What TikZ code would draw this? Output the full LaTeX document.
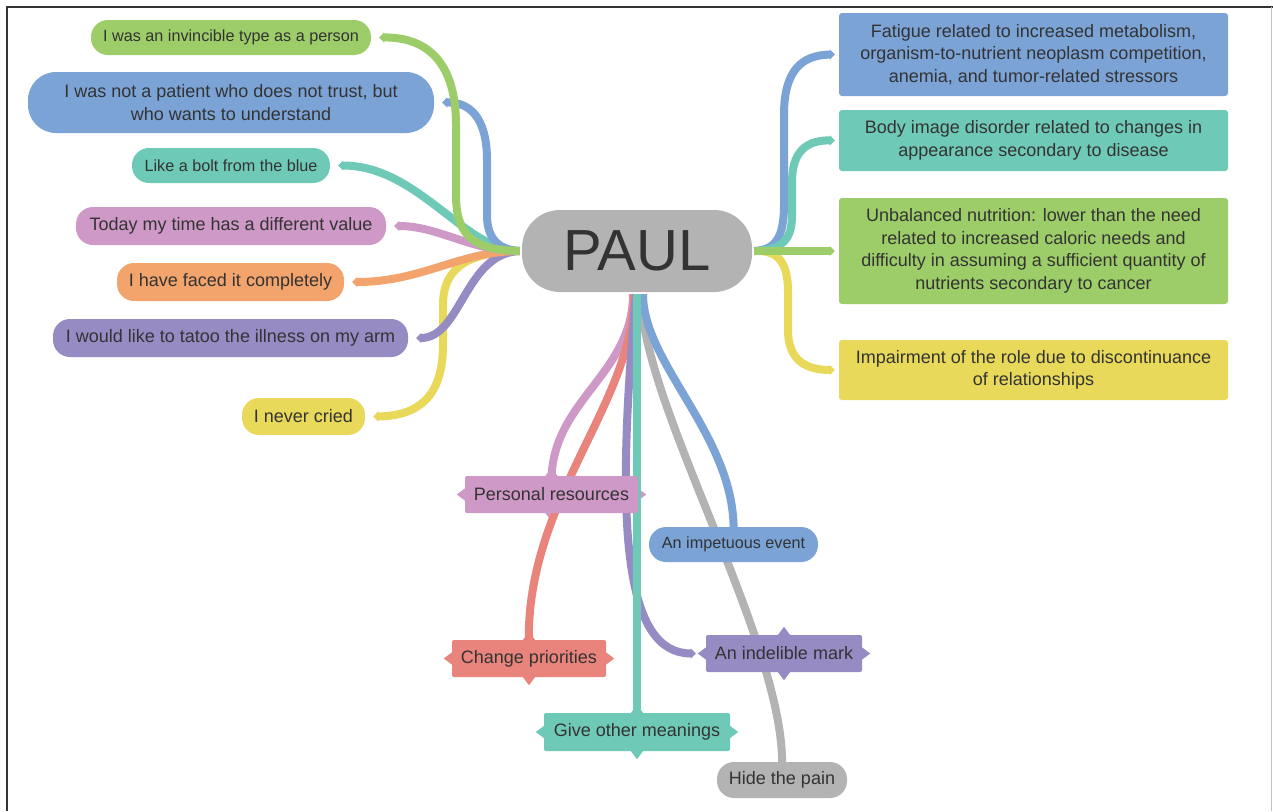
\documentclass[tikz,border=0pt]{standalone}
\usepackage{fontspec}
\setmainfont{Liberation Sans}
\usetikzlibrary{arrows.meta}
\definecolor{cgreen}{HTML}{9DCD68}
\definecolor{cblue}{HTML}{7BA3D6}
\definecolor{cteal}{HTML}{6FC9B7}
\definecolor{cpink}{HTML}{CE98C7}
\definecolor{corange}{HTML}{F3A46C}
\definecolor{cpurple}{HTML}{978BC4}
\definecolor{cyellow}{HTML}{E8D95B}
\definecolor{cred}{HTML}{E9847C}
\definecolor{cgray}{HTML}{B3B3B3}
\definecolor{ctext}{HTML}{333333}
\pgfdeclarelayer{bg}
\pgfsetlayers{bg,main}
\newcommand\notchfour[2]{%
  \fill[#2] (#1.north) ++(-6,0) -- ++(6,-8) -- ++(6,8) -- cycle;
  \fill[#2] (#1.south) ++(-6,0) -- ++(6,8) -- ++(6,-8) -- cycle;
  \fill[#2] (#1.east) ++(0,-6) -- ++(8,6) -- ++(-8,6) -- cycle;
  \fill[#2] (#1.west) ++(0,-6) -- ++(-8,6) -- ++(8,6) -- cycle;}
\tikzset{
  base/.style={inner sep=0pt, text=ctext, align=center, font=\fontsize{18}{22.5}\selectfont},
  small/.style={font=\fontsize{16.2}{20}\selectfont},
  pill/.style={base, fill=#1, rounded corners=17pt},
  rbox/.style={base, fill=#1, rounded corners=3pt},
  conn/.style={draw=#1, line width=8pt, -{Triangle[length=5pt,width=10pt]}},
}
\begin{document}
\begin{tikzpicture}[x=1pt,y=-1pt]
\useasboundingbox (0,0) rectangle (1273,811);
\begin{pgfonlayer}{bg}
\fill[white] (0,0) rectangle (1273,811);
\end{pgfonlayer}
\draw[line width=1.5pt, draw=black!80] (7,811) -- (7,7) -- (1273,7);
\draw[line width=1pt, draw=black!25] (1271.5,7) -- (1271.5,811);
% center
\node[pill=cgray, rounded corners=38pt, minimum width=230pt, minimum height=82pt, font=\fontsize{58}{58}\selectfont] (paul) at (637,251) {PAUL};
% left
\node[pill=cgreen, small, minimum width=280pt, minimum height=35pt] (l1) at (231,37.5) {I was an invincible type as a person};
\node[pill=cblue, rounded corners=28pt, minimum width=406pt, minimum height=61pt] (l2) at (231,102.5) {I was not a patient who does not trust, but\\who wants to understand};
\node[pill=cteal, small, minimum width=198pt, minimum height=35pt] (l3) at (231,165.5) {Like a bolt from the blue};
\node[pill=cpink, minimum width=310pt, minimum height=38pt] (l4) at (231,226) {Today my time has a different value};
\node[pill=corange, minimum width=227pt, minimum height=38pt] (l5) at (230.5,282) {I have faced it completely};
\node[pill=cpurple, minimum width=355pt, minimum height=38pt] (l6) at (230.5,338) {I would like to tatoo the illness on my arm};
\node[pill=cyellow, minimum width=123pt, minimum height=37pt] (l7) at (303.5,416.5) {I never cried};
% right
\node[rbox=cblue, minimum width=389pt, minimum height=83pt] (r1) at (1033.5,54.5) {Fatigue related to increased metabolism,\\organism-to-nutrient neoplasm competition,\\anemia, and tumor-related stressors};
\node[rbox=cteal, minimum width=389pt, minimum height=61pt] (r2) at (1033.5,140.5) {Body image disorder related to changes in\\appearance secondary to disease};
\node[rbox=cgreen, minimum width=389pt, minimum height=106pt] (r3) at (1033.5,251) {Unbalanced nutrition: lower than the need\\related to increased caloric needs and\\difficulty in assuming a sufficient quantity of\\nutrients secondary to cancer};
\node[rbox=cyellow, minimum width=389pt, minimum height=60pt] (r4) at (1033.5,370) {Impairment of the role due to discontinuance\\of relationships};
% bottom
\node[rbox=cpink, rounded corners=2pt, minimum width=173pt, minimum height=37pt] (b1) at (551.5,494.5) {Personal resources};
\node[pill=cblue, small, minimum width=169pt, minimum height=35pt] (b2) at (733.5,544.5) {An impetuous event};
\node[rbox=cred, rounded corners=2pt, minimum width=154pt, minimum height=37pt] (b3) at (529,658.5) {Change priorities};
\node[rbox=cpurple, rounded corners=2pt, minimum width=156pt, minimum height=37pt] (b4) at (784,653.5) {An indelible mark};
\node[rbox=cteal, rounded corners=2pt, minimum width=186pt, minimum height=38pt] (b5) at (637,732) {Give other meanings};
\node[pill=cgray, minimum width=130pt, minimum height=36pt] (b6) at (782,780) {Hide the pain};
\begin{pgfonlayer}{bg}
\notchfour{b1}{cpink}
\notchfour{b3}{cred}
\notchfour{b4}{cpurple}
\notchfour{b5}{cteal}
% left connectors
\coordinate (pl) at ([xshift=-2pt]paul.west);
\draw[conn=cyellow] (pl) .. controls (472,252) and (443,265) .. (443,305) -- (443,345) .. controls (443,400) and (415,416) .. ([xshift=8pt]l7.east);
\draw[conn=cpurple] (pl) .. controls +(-55,2) and +(45,0) .. ([xshift=8pt]l6.east);
\draw[conn=corange] (pl) .. controls +(-60,0) and +(70,0) .. ([xshift=8pt]l5.east);
\draw[conn=cpink] (pl) .. controls +(-50,0) and +(45,0) .. ([xshift=8pt]l4.east);
\draw[conn=cteal] (pl) .. controls +(-55,0) and +(80,0) .. ([xshift=8pt]l3.east);
\draw[conn=cblue] (pl) .. controls (502,250) and (487,242) .. (487,215) -- (487,160) .. controls (487,118) and (470,102) .. ([xshift=8pt]l2.east);
\draw[conn=cgreen] (pl) .. controls (478,250) and (456,240) .. (456,195) -- (456,125) .. controls (456,60) and (425,37) .. ([xshift=8pt]l1.east);
% right connectors
\coordinate (pr) at ([xshift=2pt]paul.east);
\draw[conn=cyellow] (pr) .. controls (778,250) and (788,262) .. (788,292) -- (788,330) .. controls (788,362) and (808,370) .. ([xshift=-4pt]r4.west);
\draw[conn=cblue] (pr) .. controls (775,250) and (784,238) .. (784,205) -- (784,115) .. controls (784,70) and (802,55) .. ([xshift=-4pt]r1.west);
\draw[conn=cteal] (pr) .. controls (782,250) and (792,240) .. (792,215) -- (792,182) .. controls (792,152) and (806,140) .. ([xshift=-4pt]r2.west);
\draw[conn=cgreen] (pr) -- ([xshift=-4pt]r3.west);
% bottom connectors
\coordinate (pb) at ([yshift=-2pt]paul.south);
\draw[conn=cpink] ([xshift=-4pt]pb) .. controls +(0,80) and +(0,-85) .. ([yshift=-10pt]b1.north);
\draw[conn=cred] ([xshift=-3pt]pb) .. controls +(0,110) and +(-4,-150) .. ([yshift=-10pt]b3.north);
\draw[conn=cgray] ([xshift=4pt]pb) .. controls +(0,110) and +(3,-130) .. ([yshift=-10pt]b6.north);
\draw[conn=cblue] ([xshift=6pt]pb) .. controls +(0,70) and +(2,-100) .. ([yshift=-10pt]b2.north);
\draw[conn=cpurple] ([xshift=-1pt]pb) .. controls +(-22,240) and +(-70,0) .. ([xshift=-10pt]b4.west);
\draw[conn=cteal] (pb) -- ([yshift=-10pt]b5.north);
\end{pgfonlayer}
\end{tikzpicture}
\end{document}
